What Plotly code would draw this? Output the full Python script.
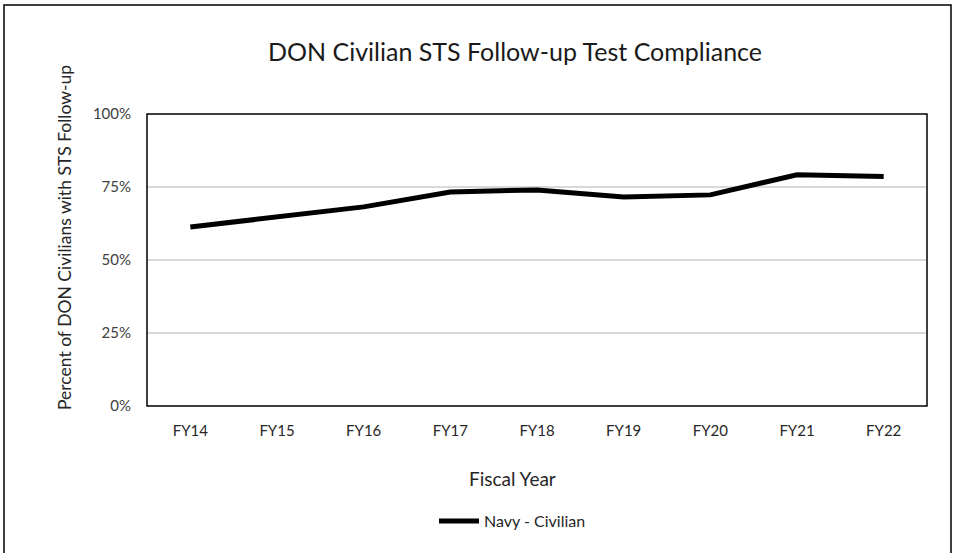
import plotly.graph_objects as go

years = ["FY14", "FY15", "FY16", "FY17", "FY18", "FY19", "FY20", "FY21", "FY22"]
navy_civilian = [0.613, 0.647, 0.682, 0.733, 0.74, 0.716, 0.723, 0.792, 0.786]
y_ticks = [0, 0.25, 0.5, 0.75, 1.0]
y_tick_labels = ["0%", "25%", "50%", "75%", "100%"]

FONT = "Lato, Carlito, sans-serif"

fig = go.Figure()
fig.add_trace(go.Scatter(
    x=years, y=navy_civilian, mode="lines",
    name="Navy - Civilian",
    line=dict(color="black", width=5),
))

L, R, T, B = 147, 29, 114, 147
W, H = 956, 553
pw, ph = W - L - R, H - T - B

def px_x(x):
    return (x - L) / pw

def px_y(y):
    return (H - B - y) / ph

fig.update_layout(
    width=W, height=H,
    margin=dict(l=L, r=R, t=T, b=B, pad=0),
    paper_bgcolor="white", plot_bgcolor="white",
    font=dict(family=FONT, color="#404040", size=15),
    xaxis=dict(
        type="category", range=[-0.5, 8.5], showgrid=False, zeroline=False,
        showline=False, ticks="", ticklen=0, ticklabelstandoff=14,
        tickfont=dict(size=15, color="#262626"),
    ),
    yaxis=dict(
        range=[0, 1], tickmode="array", tickvals=y_ticks, ticktext=y_tick_labels,
        showgrid=True, gridcolor="#d9d9d9", gridwidth=1.5, zeroline=False,
        showline=False, ticks="", ticklen=0, ticklabelstandoff=15,
        tickfont=dict(size=15, color="#404040"),
    ),
    showlegend=True,
    legend=dict(orientation="h", x=px_x(434), xanchor="left", y=px_y(521), yanchor="middle",
                font=dict(size=16, color="#262626"), itemwidth=40,
                bgcolor="rgba(0,0,0,0)"),
    annotations=[
        dict(text="DON Civilian STS Follow-up Test Compliance", xref="paper", yref="paper",
             x=px_x(515), y=px_y(51), xanchor="center", yanchor="middle", showarrow=False,
             font=dict(size=25, color="#1a1a1a", family=FONT)),
        dict(text="Fiscal Year", xref="paper", yref="paper", x=px_x(512), y=px_y(478),
             xanchor="center", yanchor="middle", showarrow=False,
             font=dict(size=19, color="#262626", family=FONT)),
        dict(text="Percent of DON Civilians with STS Follow-up", xref="paper", yref="paper",
             x=px_x(64), y=px_y(238), xanchor="center", yanchor="middle",
             textangle=-90, showarrow=False,
             font=dict(size=17.5, color="#262626", family=FONT)),
    ],
    shapes=[
        dict(type="rect", xref="paper", yref="paper", x0=0, x1=1, y0=0, y1=1,
             line=dict(color="black", width=1.5)),
        dict(type="rect", xref="paper", yref="paper",
             x0=px_x(4), x1=px_x(951), y0=px_y(5), y1=px_y(580),
             line=dict(color="black", width=1.5)),
    ],
)

fig.write_html("out.html", config={"displayModeBar": False},
               post_script="document.body.style.margin='0';document.body.style.overflow='hidden';")
